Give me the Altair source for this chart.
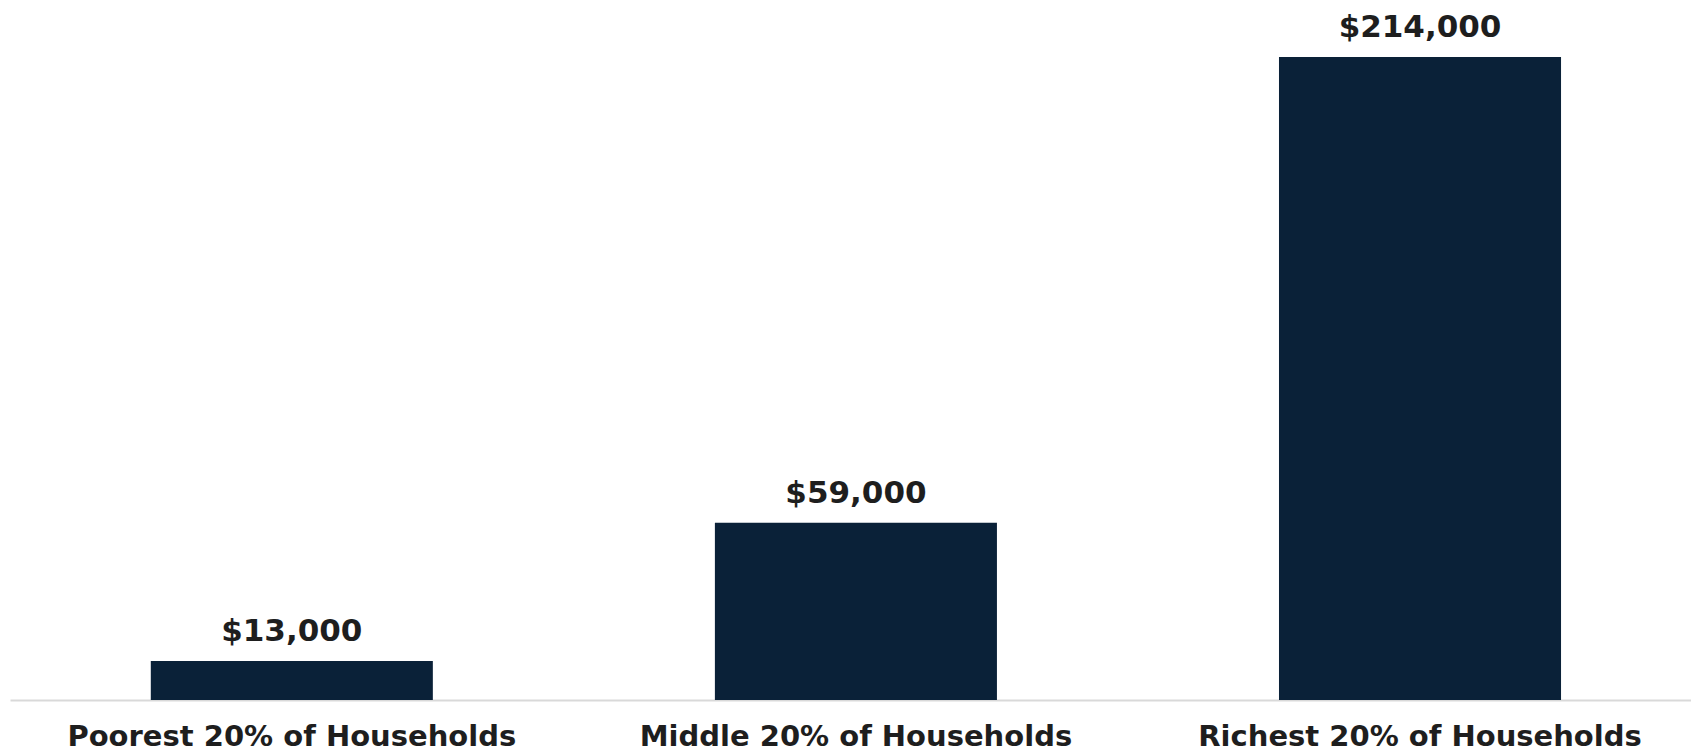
import altair as alt
import pandas as pd

categories = ["Poorest 20% of Households", "Middle 20% of Households", "Richest 20% of Households"]
values = [13000, 59000, 214000]

df = pd.DataFrame({"group": categories, "income": values})

FONT = "DejaVu Sans"
BAR = "#0a2138"
TXT = "#1e1e1e"

x = alt.X(
    "group:N",
    sort=categories,
    title=None,
    scale=alt.Scale(paddingInner=0.5, paddingOuter=0.24, align=0.52),
    axis=alt.Axis(
        labelAngle=0,
        labelFont=FONT,
        labelFontSize=29,
        labelFontWeight="bold",
        labelColor=TXT,
        labelBaseline="alphabetic",
        labelPadding=45,
        labelLimit=800,
        ticks=False,
        tickSize=0,
        domainColor="#d9d9d9",
        domainWidth=2,
        grid=False,
    ),
)
y = alt.Y("income:Q", title=None, axis=None, scale=alt.Scale(domain=[0, 230300]))

bars = alt.Chart(df).mark_bar(color=BAR).encode(x=x, y=y)
labels = alt.Chart(df).mark_text(
    font=FONT, fontSize=31, fontWeight="bold", color=TXT,
    baseline="alphabetic", align="center", dy=-20,
).encode(x=x, y=y, text=alt.Text("income:Q", format="$,.0f"))

chart = (bars + labels).properties(
    width=1681,
    height=692,
    background="white",
    padding={"left": 2, "top": 0, "right": 0, "bottom": 54},
    autosize=alt.AutoSizeParams(type="none"),
).configure_view(stroke=None, strokeWidth=0)

chart.save("out.html", embed_options={"renderer": "svg", "actions": False})
